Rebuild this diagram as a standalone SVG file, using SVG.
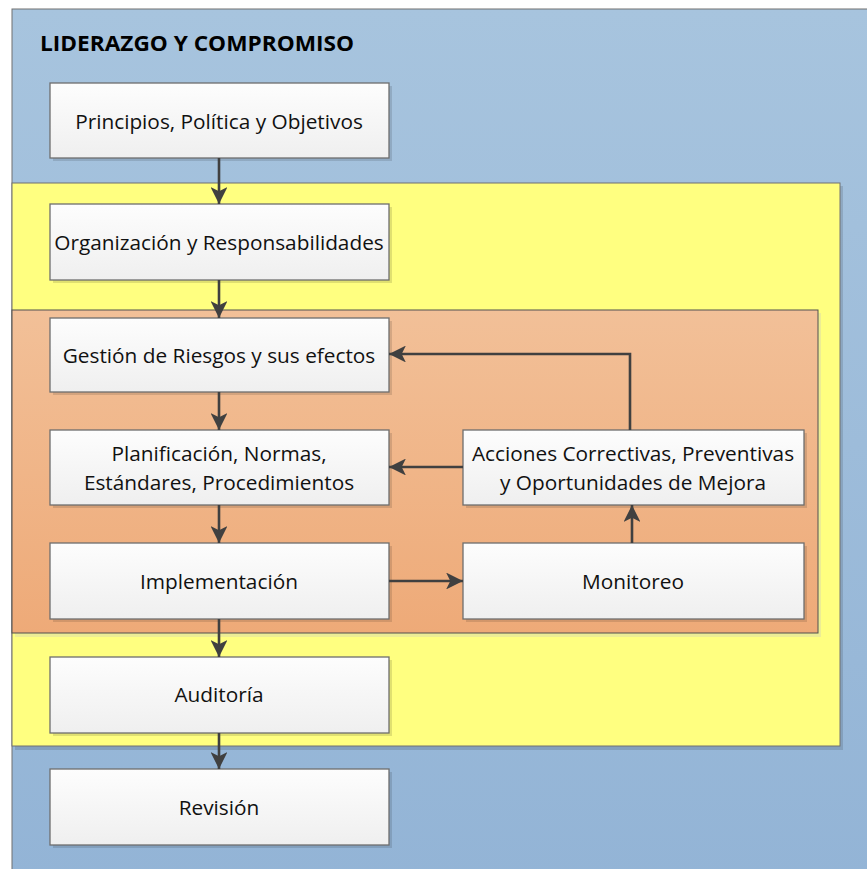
<svg xmlns="http://www.w3.org/2000/svg" width="867" height="869" viewBox="0 0 867 869">
<defs>
<linearGradient id="gBlue" x1="0" y1="0" x2="0" y2="1"><stop offset="0" stop-color="#a7c4de"/><stop offset="1" stop-color="#93b4d6"/></linearGradient>
<linearGradient id="gOr" x1="0" y1="0" x2="0" y2="1"><stop offset="0" stop-color="#f2c098"/><stop offset="1" stop-color="#eeaa78"/></linearGradient>
<linearGradient id="gBox" x1="0" y1="0" x2="0" y2="1"><stop offset="0" stop-color="#fdfdfd"/><stop offset="1" stop-color="#efefef"/></linearGradient>
<marker id="ah" viewBox="0 0 10 10" refX="10" refY="5" markerWidth="6.5" markerHeight="6.5" markerUnits="strokeWidth" orient="auto"><path d="M0,0 L10,5 L0,10 L2.5,5 Z" fill="#404040"/></marker>
</defs>
<style>
.box{fill:url(#gBox);stroke:#6e6e6e;stroke-width:1.3}
.sh{fill:#000;opacity:0.12}
.t{font-family:"Open Sans","Noto Sans","Liberation Sans",sans-serif;font-size:20.8px;fill:#111;text-anchor:middle;dominant-baseline:central}
.c{fill:none;stroke:#404040;stroke-width:2.6;marker-end:url(#ah)}
</style>
<rect x="0" y="0" width="867" height="869" fill="#fff"/>
<g id="liderazgo">
<rect x="12" y="9" width="860" height="870" fill="url(#gBlue)" stroke="#707070" stroke-width="1"/>
<text x="40" y="43" font-family="'Open Sans','Noto Sans',sans-serif" font-weight="bold" font-size="21px" fill="#000" dominant-baseline="central" textLength="314" lengthAdjust="spacingAndGlyphs">LIDERAZGO Y COMPROMISO</text>
</g>
<g id="zona-amarilla">
<rect x="15" y="186" width="828" height="564" class="sh"/>
<rect x="12" y="183" width="828" height="563" fill="#ffff80" stroke="#707070" stroke-width="1"/>
</g>
<g id="zona-naranja">
<rect x="15" y="313" width="806" height="324" fill="#e8e89a" opacity="0.8"/>
<rect x="12" y="310" width="806" height="323" fill="url(#gOr)" stroke="#505050" stroke-width="1"/>
</g>
<g id="n1"><rect x="53" y="86" width="339" height="75" class="sh"/><rect x="50" y="83" width="339" height="75" class="box"/><text x="219" y="121" class="t">Principios, Política y Objetivos</text></g>
<g id="n2"><rect x="53" y="207" width="339" height="76" class="sh"/><rect x="50" y="204" width="339" height="76" class="box"/><text x="219" y="242" class="t">Organización y Responsabilidades</text></g>
<g id="n3"><rect x="53" y="321" width="339" height="74" class="sh"/><rect x="50" y="318" width="339" height="74" class="box"/><text x="219" y="355" class="t">Gestión de Riesgos y sus efectos</text></g>
<g id="n4"><rect x="53" y="433" width="339" height="75" class="sh"/><rect x="50" y="430" width="339" height="75" class="box"/><text x="219" y="453" class="t">Planificación, Normas,</text><text x="219" y="482" class="t">Estándares, Procedimientos</text></g>
<g id="n5"><rect x="53" y="546" width="339" height="76" class="sh"/><rect x="50" y="543" width="339" height="76" class="box"/><text x="219" y="581" class="t">Implementación</text></g>
<g id="n6"><rect x="53" y="660" width="339" height="76" class="sh"/><rect x="50" y="657" width="339" height="76" class="box"/><text x="219" y="694" class="t">Auditoría</text></g>
<g id="n7"><rect x="53" y="772" width="339" height="76" class="sh"/><rect x="50" y="769" width="339" height="76" class="box"/><text x="219" y="807" class="t">Revisión</text></g>
<g id="n8"><rect x="466" y="433" width="341" height="75" class="sh"/><rect x="463" y="430" width="341" height="75" class="box"/><text x="633" y="453" class="t">Acciones Correctivas, Preventivas</text><text x="633" y="482" class="t">y Oportunidades de Mejora</text></g>
<g id="n9"><rect x="466" y="546" width="341" height="76" class="sh"/><rect x="463" y="543" width="341" height="76" class="box"/><text x="633" y="581" class="t">Monitoreo</text></g>
<g id="conectores">
<path d="M219,158 V204" class="c"/>
<path d="M219,280 V318" class="c"/>
<path d="M219,392 V430" class="c"/>
<path d="M219,505 V543" class="c"/>
<path d="M219,619 V657" class="c"/>
<path d="M219,733 V769" class="c"/>
<path d="M389,581 H463" class="c"/>
<path d="M632,543 V505" class="c"/>
<path d="M463,467 H389" class="c"/>
<path d="M630,430 V354 H389" class="c"/>
</g>
</svg>
